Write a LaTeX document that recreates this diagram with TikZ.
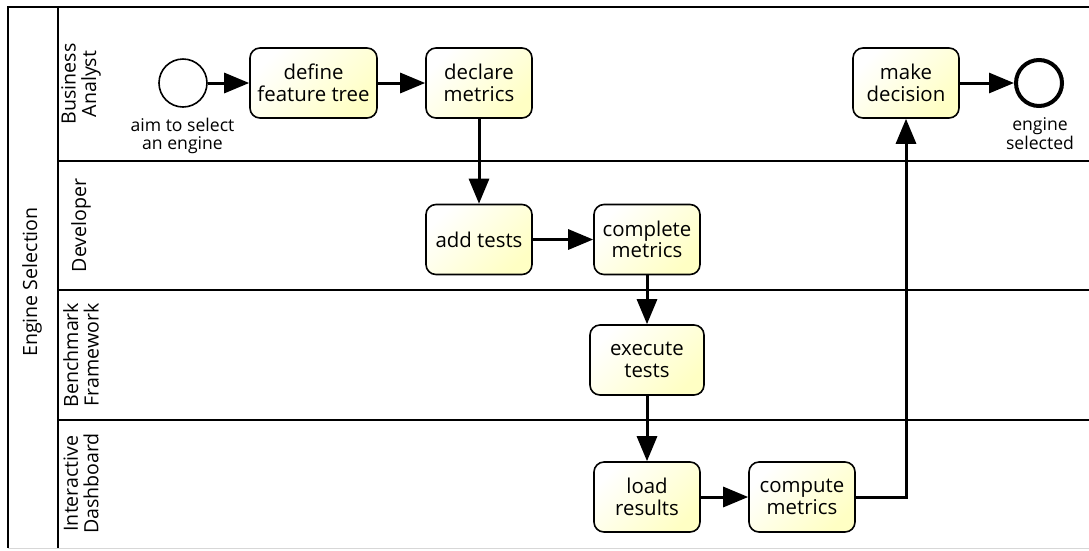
\documentclass[tikz,border=0pt]{standalone}
\usepackage{fontspec}
\setmainfont{Open Sans}
\usetikzlibrary{arrows.meta}
\definecolor{taskfill}{RGB}{255,255,196}
\definecolor{edgegray}{RGB}{215,215,215}
\begin{document}
\begin{tikzpicture}[x=1pt,y=-1pt,
  task/.style={draw, line width=1.6pt, rounded corners=10pt,
    minimum width=106pt, minimum height=70pt, inner sep=0pt, align=center,
    font=\fontsize{20.4}{21.5}\selectfont,
    top color=white, bottom color=taskfill, shading angle=45},
  startev/.style={circle, draw, line width=1.6pt, minimum size=48pt, inner sep=0pt},
  endev/.style={circle, draw, line width=4pt, minimum size=46pt, inner sep=0pt},
  evlabel/.style={anchor=north, inner sep=0pt, align=center,
    font=\fontsize{17.6}{18.6}\selectfont},
  lanelabel/.style={rotate=90, inner sep=0pt, align=center,
    font=\fontsize{19.6}{20.5}\selectfont},
  flow/.style={draw, line width=3pt,
    -{Triangle[length=25pt,width=20pt]}},
  border/.style={line width=2pt}]

\useasboundingbox (0,0) rectangle (1089,550);

% pool and lanes
\draw[border] (1095,7) -- (8,7) -- (8,548);
\draw[border] (58,7) -- (58,548);
\draw[border] (58,161) -- (1095,161);
\draw[border] (58,290) -- (1095,290);
\draw[border] (58,420) -- (1095,420);
\draw[edgegray, line width=1.5pt] (8,548.5) -- (1095,548.5);

\node[lanelabel] (pool) at (32,282) {Engine Selection};
\node[lanelabel] (laneBA) at (81,84) {Business\\Analyst};
\node[lanelabel] (laneDev) at (81,225.5) {Developer};
\node[lanelabel] (laneBF) at (81,355) {Benchmark\\Framework};
\node[lanelabel] (laneID) at (81,483.5) {Interactive\\Dashboard};

% events
\node[startev] (start) at (183,83) {};
\node[evlabel] (startlbl) at (182.5,117.5) {aim to select\\an engine};
\node[endev] (finish) at (1039,83) {};
\node[evlabel] (finishlbl) at (1040,117.5) {engine\\selected};

% tasks
\node[task, minimum width=127pt] (define) at (313.5,83) {define\\feature tree};
\node[task] (declare) at (479,83) {declare\\metrics};
\node[task] (decide) at (906,83) {make\\decision};
\node[task] (addtests) at (479,239.5) {add tests};
\node[task] (complete) at (647,239.5) {complete\\metrics};
\node[task, minimum width=114pt] (execute) at (647,360) {execute\\tests};
\node[task] (load) at (647,497) {load\\results};
\node[task] (compute) at (802,497) {compute\\metrics};

% sequence flows
\draw[flow] (start) -- (define);
\draw[flow] (define) -- (declare);
\draw[flow] (declare) -- (addtests);
\draw[flow] (addtests) -- (complete);
\draw[flow] (complete) -- (execute);
\draw[flow] (execute) -- (load);
\draw[flow] (load) -- (compute);
\draw[flow] (compute.east) -| (decide.south);
\draw[flow] (decide) -- (finish);
\end{tikzpicture}
\end{document}
